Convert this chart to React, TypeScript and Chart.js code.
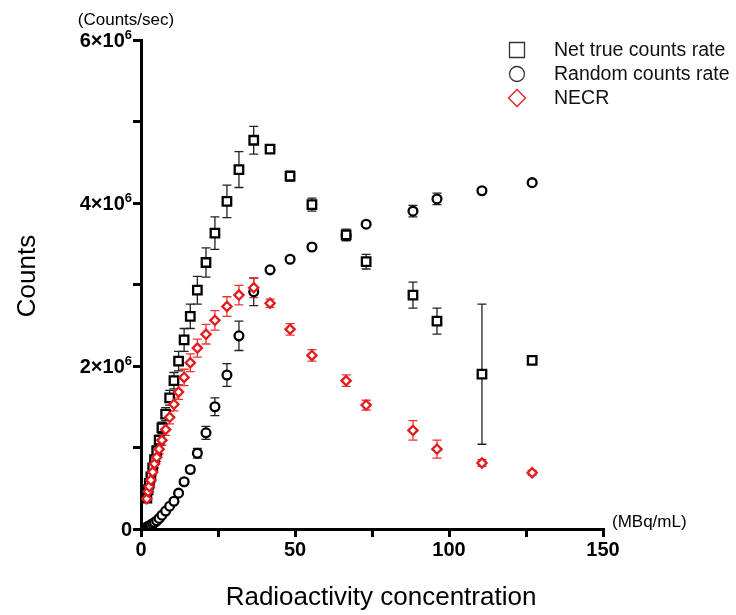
import React, { useEffect, useRef } from 'react';
import { Chart, registerables } from 'chart.js';

Chart.register(...registerables);

// Radioactivity concentration (MBq/mL)
const concentration = [1.9, 2.3, 2.7, 3.2, 3.8, 4.4, 5.1, 5.9, 6.8, 8.0, 9.3, 10.7, 12.2, 14.0, 16.0, 18.3, 21.1, 24.0, 27.9, 31.8, 36.6, 41.9, 48.4, 55.5, 66.6, 73.1, 88.3, 96.1, 110.7, 127.0];
// Values in units of 10^6 counts/sec
const netTrue = [0.38, 0.48, 0.56, 0.64, 0.75, 0.85, 0.96, 1.09, 1.24, 1.41, 1.61, 1.82, 2.06, 2.32, 2.61, 2.93, 3.27, 3.63, 4.02, 4.41, 4.77, 4.66, 4.33, 3.98, 3.61, 3.28, 2.87, 2.55, 1.90, 2.07];
const netTrueErr = [0.03, 0.03, 0.03, 0.04, 0.04, 0.05, 0.05, 0.06, 0.07, 0.08, 0.09, 0.10, 0.12, 0.14, 0.15, 0.17, 0.18, 0.20, 0.20, 0.22, 0.17, 0.04, 0.06, 0.08, 0.07, 0.09, 0.16, 0.16, 0.86, 0.05];
const randomCounts = [0.025, 0.03, 0.04, 0.05, 0.065, 0.08, 0.10, 0.13, 0.17, 0.22, 0.28, 0.34, 0.44, 0.58, 0.73, 0.93, 1.18, 1.50, 1.89, 2.37, 2.91, 3.18, 3.31, 3.46, 3.60, 3.74, 3.90, 4.05, 4.15, 4.25];
const randomErr = [0.005, 0.005, 0.005, 0.005, 0.005, 0.01, 0.01, 0.01, 0.01, 0.01, 0.015, 0.02, 0.02, 0.03, 0.04, 0.06, 0.08, 0.11, 0.14, 0.18, 0.17, 0.02, 0.02, 0.02, 0.06, 0.02, 0.07, 0.07, 0.02, 0.02];
const necr = [0.37, 0.46, 0.52, 0.60, 0.70, 0.80, 0.88, 0.98, 1.09, 1.22, 1.37, 1.53, 1.68, 1.86, 2.04, 2.22, 2.39, 2.56, 2.73, 2.87, 2.96, 2.77, 2.45, 2.13, 1.82, 1.52, 1.21, 0.98, 0.81, 0.69];
const necrErr = [0.03, 0.03, 0.03, 0.04, 0.04, 0.05, 0.05, 0.06, 0.06, 0.07, 0.08, 0.08, 0.09, 0.10, 0.11, 0.11, 0.12, 0.12, 0.12, 0.12, 0.12, 0.05, 0.07, 0.07, 0.07, 0.06, 0.12, 0.11, 0.04, 0.03];

const seriesNames = ['Net true counts rate', 'Random counts rate', 'NECR'];
const xTickValues = [0, 50, 100, 150];
const yTickValues = [0, 2, 4, 6];
const yTickBases = ['0', '2×10', '4×10', '6×10'];
const yTickExps = ['', '6', '6', '6'];
const yUnit = '(Counts/sec)';
const xUnit = '(MBq/mL)';
const yTitle = 'Counts';
const xTitle = 'Radioactivity concentration';

const SANS = "'Liberation Sans', Arial, sans-serif";
const NARROW = "'Liberation Sans Narrow', 'Arial Narrow', 'Liberation Sans', Arial, sans-serif";
const RED = '#e41a1c';

const errorBarPlugin = {
  id: 'errorBars',
  beforeDatasetsDraw(chart: any) {
    const ctx = chart.ctx;
    const xs = chart.scales.x;
    const ys = chart.scales.y;
    ctx.save();
    chart.data.datasets.forEach((ds: any) => {
      const errs: number[] = ds.errors;
      ctx.strokeStyle = ds.errorColor;
      ctx.lineWidth = 1.3;
      ds.data.forEach((p: any, i: number) => {
        const e = errs[i];
        if (!e) return;
        const px = xs.getPixelForValue(p.x);
        const top = ys.getPixelForValue(p.y + e);
        const bot = ys.getPixelForValue(p.y - e);
        ctx.beginPath();
        ctx.moveTo(px, top);
        ctx.lineTo(px, bot);
        ctx.moveTo(px - 4.5, top);
        ctx.lineTo(px + 4.5, top);
        ctx.moveTo(px - 4.5, bot);
        ctx.lineTo(px + 4.5, bot);
        ctx.stroke();
      });
    });
    ctx.restore();
  },
};

const annotationPlugin = {
  id: 'annotations',
  afterDraw(chart: any) {
    const ctx = chart.ctx;
    const ys = chart.scales.y;
    ctx.save();
    ctx.fillStyle = '#000';
    // y tick labels with superscript
    ctx.textBaseline = 'alphabetic';
    yTickValues.forEach((v, i) => {
      const py = ys.getPixelForValue(v);
      ctx.font = `bold 20px ${NARROW}`;
      const wb = ctx.measureText(yTickBases[i]).width;
      ctx.font = `bold 13px ${NARROW}`;
      const we = yTickExps[i] ? ctx.measureText(yTickExps[i]).width : 0;
      const right = 132;
      const start = right - wb - we;
      ctx.font = `bold 20px ${NARROW}`;
      ctx.textAlign = 'left';
      ctx.fillText(yTickBases[i], start, py + 7);
      if (yTickExps[i]) {
        ctx.font = `bold 13px ${NARROW}`;
        ctx.fillText(yTickExps[i], start + wb, py - 1);
      }
    });
    // units
    ctx.font = `17px ${SANS}`;
    ctx.textAlign = 'center';
    ctx.textBaseline = 'middle';
    ctx.fillText(yUnit, 126, 20);
    ctx.textAlign = 'left';
    ctx.fillText(xUnit, 612, 522);
    // axis titles
    ctx.font = `26px ${SANS}`;
    ctx.textAlign = 'center';
    ctx.textBaseline = 'alphabetic';
    ctx.fillText(xTitle, 381, 605);
    ctx.save();
    ctx.translate(35, 276);
    ctx.rotate(-Math.PI / 2);
    ctx.fillText(yTitle, 0, 0);
    ctx.restore();
    // legend
    const rows = [50, 74, 98];
    ctx.font = `19.5px ${SANS}`;
    ctx.textAlign = 'left';
    ctx.textBaseline = 'middle';
    rows.forEach((ry, i) => {
      const mx = 517;
      ctx.lineWidth = 1.3;
      ctx.strokeStyle = i === 2 ? RED : '#333';
      ctx.beginPath();
      if (i === 0) {
        ctx.rect(mx - 7.5, ry - 7.5, 15, 15);
      } else if (i === 1) {
        ctx.arc(mx, ry, 7.5, 0, Math.PI * 2);
      } else {
        ctx.moveTo(mx, ry - 8.5);
        ctx.lineTo(mx + 8.5, ry);
        ctx.lineTo(mx, ry + 8.5);
        ctx.lineTo(mx - 8.5, ry);
        ctx.closePath();
      }
      ctx.stroke();
      ctx.fillStyle = '#111';
      ctx.fillText(seriesNames[i], 554, ry + 1);
    });
    ctx.restore();
  },
};

export default function App() {
  const ref = useRef<HTMLCanvasElement>(null);
  useEffect(() => {
    const toPts = (ys: number[]) => concentration.map((x, i) => ({ x, y: ys[i] }));
    const chart = new Chart(ref.current as HTMLCanvasElement, {
      type: 'scatter',
      data: {
        datasets: [
          {
            label: seriesNames[0],
            data: toPts(netTrue),
            errors: netTrueErr,
            errorColor: '#222',
            pointStyle: 'rect',
            pointRadius: 6,
            borderWidth: 2.3,
            borderColor: '#000',
            backgroundColor: '#fff',
            order: 1,
          } as any,
          {
            label: seriesNames[1],
            data: toPts(randomCounts),
            errors: randomErr,
            errorColor: '#222',
            pointStyle: 'circle',
            pointRadius: 4.4,
            borderWidth: 2.3,
            borderColor: '#000',
            backgroundColor: '#fff',
            order: 2,
          } as any,
          {
            label: seriesNames[2],
            data: toPts(necr),
            errors: necrErr,
            errorColor: '#ee3333',
            pointStyle: 'rectRot',
            pointRadius: 4.6,
            borderWidth: 2.3,
            borderColor: RED,
            backgroundColor: '#fff',
            order: 0,
          } as any,
        ],
      },
      options: {
        responsive: false,
        animation: false,
        devicePixelRatio: 1,
        layout: { padding: { left: 0, top: 40, right: 133, bottom: 0 } },
        plugins: { legend: { display: false }, tooltip: { enabled: false } },
        scales: {
          x: {
            type: 'linear',
            min: 0,
            max: 150,
            afterFit: (s: any) => { s.height = 86; },
            ticks: {
              stepSize: 25,
              autoSkip: false,
              maxRotation: 0,
              callback: (v: any) => (xTickValues.includes(Number(v)) ? String(v) : ''),
              font: { family: NARROW, weight: 'bold', size: 20 },
              color: '#000',
              padding: 1,
            },
            grid: { drawOnChartArea: false, tickLength: 8, lineWidth: 3, color: '#000' },
            border: { width: 3, color: '#000' },
          },
          y: {
            type: 'linear',
            min: 0,
            max: 6,
            afterFit: (s: any) => { s.width = 141; },
            ticks: { stepSize: 1, callback: () => '', padding: 0 },
            grid: { drawOnChartArea: false, tickLength: 8, lineWidth: 3, color: '#000' },
            border: { width: 3, color: '#000' },
          },
        },
      } as any,
      plugins: [errorBarPlugin, annotationPlugin],
    });
    return () => chart.destroy();
  }, []);
  return (
    <div style={{ position: 'absolute', left: 0, top: 0, width: 736, height: 615, background: '#fff' }}>
      <canvas ref={ref} width={736} height={615} style={{ display: 'block' }} />
    </div>
  );
}
